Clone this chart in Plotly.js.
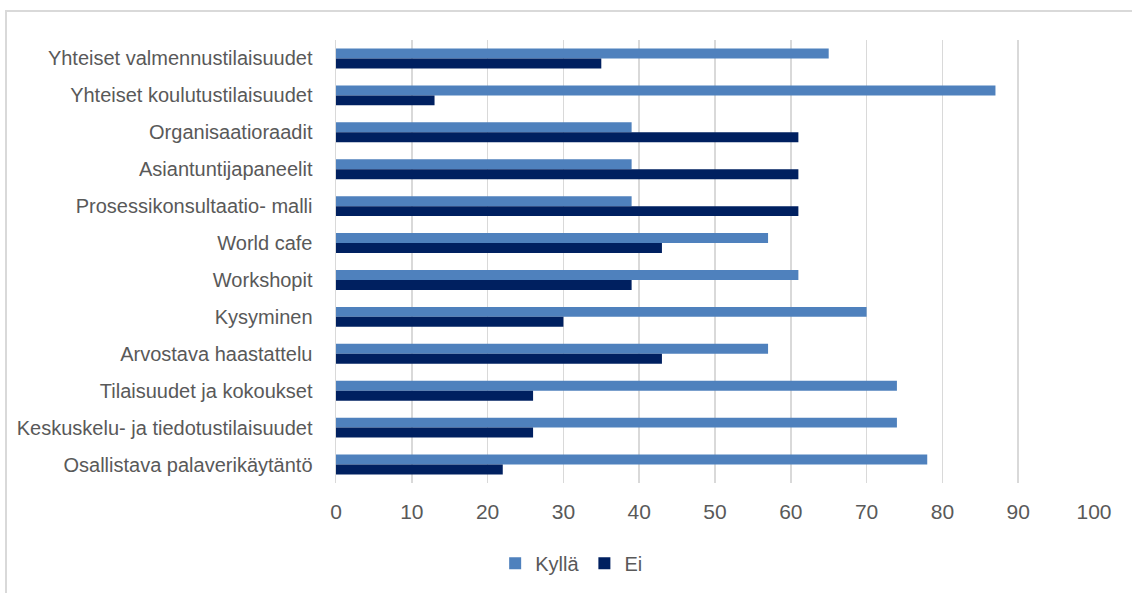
<!DOCTYPE html>
<html>
<head>
<meta charset="utf-8">
<script src="https://cdn.plot.ly/plotly-3.0.1.min.js"></script>
<style>
  html, body { margin: 0; padding: 0; background: #ffffff; overflow: hidden; }
  #frame { position: absolute; left: 5px; top: 10px; width: 1200px; height: 700px;
           border: 2px solid #D9D9D9; box-sizing: border-box; }
  #chart { position: absolute; left: 0; top: 0; width: 1132px; height: 593px; }
</style>
</head>
<body>
<div id="frame"></div>
<div id="chart"></div>
<script>
// Categories, listed from top to bottom
const categories = [
  "Yhteiset valmennustilaisuudet",
  "Yhteiset koulutustilaisuudet",
  "Organisaatioraadit",
  "Asiantuntijapaneelit",
  "Prosessikonsultaatio- malli",
  "World cafe",
  "Workshopit",
  "Kysyminen",
  "Arvostava haastattelu",
  "Tilaisuudet ja kokoukset",
  "Keskuskelu- ja tiedotustilaisuudet",
  "Osallistava palaverikäytäntö"
];

// Share of answers (%)
const kylla = [65, 87, 39, 39, 39, 57, 61, 70, 57, 74, 74, 78];
const ei    = [35, 13, 61, 61, 61, 43, 39, 30, 43, 26, 26, 22];

const xTicks = [0, 10, 20, 30, 40, 50, 60, 70, 80, 90, 100];

const fontFamily = '"Liberation Sans Narrow", "Arial Narrow", "Liberation Sans", Arial, sans-serif';

const traces = [
  { type: 'bar', orientation: 'h', name: 'Kyllä', y: categories, x: kylla,
    marker: { color: '#4F81BD' }, hoverinfo: 'x+name' },
  { type: 'bar', orientation: 'h', name: 'Ei', y: categories, x: ei,
    marker: { color: '#002060' }, hoverinfo: 'x+name' }
];

const layout = {
  width: 1132, height: 593,
  margin: { l: 336, r: 38, t: 40, b: 110 },
  paper_bgcolor: 'rgba(0,0,0,0)',
  plot_bgcolor: 'rgba(0,0,0,0)',
  barmode: 'group',
  bargap: 0.46,
  bargroupgap: 0,
  font: { family: fontFamily, size: 20, color: '#595959' },
  xaxis: {
    range: [0, 100],
    tickvals: xTicks,
    ticktext: xTicks.map(String),
    showgrid: true, gridcolor: '#D9D9D9', gridwidth: 1.5,
    zeroline: false, showline: false,
    ticks: 'outside', ticklen: 10, tickcolor: 'rgba(0,0,0,0)',
    tickfont: { family: fontFamily, size: 21, color: '#595959' },
    fixedrange: true
  },
  yaxis: {
    type: 'category',
    autorange: 'reversed',
    showgrid: false, zeroline: false,
    showline: true, linecolor: '#D9D9D9', linewidth: 1.5,
    ticks: 'outside', ticklen: 18, tickcolor: 'rgba(0,0,0,0)',
    tickfont: { family: fontFamily, size: 20, color: '#595959' },
    fixedrange: true
  },
  showlegend: true,
  legend: {
    orientation: 'h',
    xref: 'container', yref: 'container',
    x: 0.505, xanchor: 'center',
    y: 0.05, yanchor: 'middle',
    font: { family: fontFamily, size: 20, color: '#595959' },
    itemwidth: 30,
    tracegroupgap: 0
  }
};

Plotly.newPlot('chart', traces, layout, { displayModeBar: false, staticPlot: true });
</script>
</body>
</html>
